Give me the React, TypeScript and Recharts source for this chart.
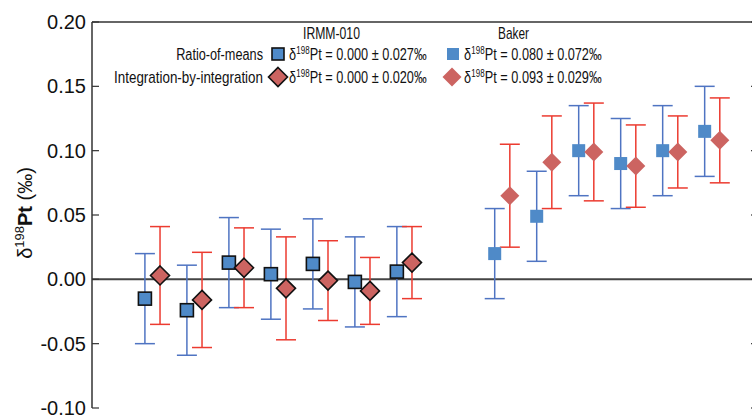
import React from 'react';
import { ComposedChart, Scatter, XAxis, YAxis, ErrorBar, ReferenceLine } from 'recharts';

// Sample positions (IRMM-010 runs 1-7, Baker runs after a gap)
const irmmX = [1, 2, 3, 4, 5, 6, 7];
const bakerX = [9.33, 10.33, 11.33, 12.33, 13.33, 14.33];
const redOffset = 0.36;

// IRMM-010 values (‰)
const irmmRatio = [-0.015, -0.024, 0.013, 0.004, 0.012, -0.002, 0.006];
const irmmRatioErr = [0.035, 0.035, 0.035, 0.035, 0.035, 0.035, 0.035];
const irmmInt = [0.003, -0.016, 0.009, -0.007, -0.001, -0.009, 0.013];
const irmmIntErr = [0.038, 0.037, 0.031, 0.040, 0.031, 0.026, 0.028];

// Baker values (‰)
const bakerRatio = [0.020, 0.049, 0.100, 0.090, 0.100, 0.115];
const bakerRatioErr = [0.035, 0.035, 0.035, 0.035, 0.035, 0.035];
const bakerInt = [0.065, 0.091, 0.099, 0.088, 0.099, 0.108];
const bakerIntErr = [0.040, 0.036, 0.038, 0.032, 0.028, 0.033];

const yTicks = [-0.1, -0.05, 0, 0.05, 0.1, 0.15, 0.2];
const yTickLabels = ['-0.10', '-0.05', '0.00', '0.05', '0.10', '0.15', '0.20'];

const BLUE = '#4f8ac8';
const RED = '#cc6461';
const BLUE_ERR = '#4f74c2';
const RED_ERR = '#ec3b30';

const build = (xs: number[], ys: number[], es: number[], off = 0) =>
  xs.map((x, i) => ({ x: x + off, y: ys[i], err: es[i] }));

const irmmRatioData = build(irmmX, irmmRatio, irmmRatioErr);
const irmmIntData = build(irmmX, irmmInt, irmmIntErr, redOffset);
const bakerRatioData = build(bakerX, bakerRatio, bakerRatioErr);
const bakerIntData = build(bakerX, bakerInt, bakerIntErr, redOffset);

const Square = (stroke: boolean) => (p: any) => {
  const s = 13;
  return (
    <rect x={p.cx - s / 2} y={p.cy - s / 2} width={s} height={s} fill={BLUE}
      stroke={stroke ? '#111' : 'none'} strokeWidth={1.6} />
  );
};
const Diamond = (stroke: boolean) => (p: any) => {
  const r = 9.5;
  return (
    <polygon points={`${p.cx},${p.cy - r} ${p.cx + r},${p.cy} ${p.cx},${p.cy + r} ${p.cx - r},${p.cy}`}
      fill={RED} stroke={stroke ? '#111' : 'none'} strokeWidth={1.6} />
  );
};

const LeftTick = (p: any) => {
  const idx = yTicks.indexOf(p.payload.value);
  return (
    <g>
      <line x1={p.x + 6} x2={p.x + 13} y1={p.y} y2={p.y} stroke="#333" strokeWidth={1.2} />
      <text x={p.x} y={p.y} dy={7} textAnchor="end" fontSize={20} fill="#111"
        fontFamily="Liberation Sans, Arial, sans-serif">
        {idx >= 0 ? yTickLabels[idx] : p.payload.value}
      </text>
    </g>
  );
};
const RightTick = (p: any) => (
  <line x1={p.x - 7} x2={p.x} y1={p.y} y2={p.y} stroke="#333" strokeWidth={1.2} />
);

const LF = "'Liberation Sans', Arial, sans-serif";

// condensed label (Liberation Sans squeezed horizontally to mimic a narrow humanist face)
const Label = ({ x, y, s, anchor, children }: any) => (
  <g transform={`translate(${x},${y}) scale(${s},1)`}>
    <text x={0} y={0} textAnchor={anchor || 'start'} fontSize={16} fontFamily={LF} fill="#111">{children}</text>
  </g>
);

const DeltaText = ({ x, y, value }: { x: number; y: number; value: string }) => (
  <g transform={`translate(${x},${y}) scale(0.795,1)`}>
    <text x={0} y={0} fontSize={16} fontFamily={LF} fill="#111">δ</text>
    <text x={9.2} y={-6} fontSize={10} fontFamily={LF} fill="#111">198</text>
    <text x={26.2} y={0} fontSize={16} fontFamily={LF} fill="#111">{`Pt = ${value}‰`}</text>
  </g>
);

export default function App() {
  return (
    <div style={{ position: 'absolute', left: 0, top: 0, width: 760, height: 415, background: '#fff' }}>
      <ComposedChart width={760} height={415} margin={{ top: 22, right: 0, bottom: 7, left: 0 }}>
        <XAxis dataKey="x" type="number" domain={[-0.26, 15.6]} height={0} tick={false}
          tickLine={false} axisLine={{ stroke: '#333', strokeWidth: 1.5 }} allowDataOverflow />
        <YAxis yAxisId="l" type="number" domain={[-0.1, 0.2]} ticks={yTicks} width={92}
          tickSize={0} tickMargin={6} tickLine={false} tick={<LeftTick />}
          axisLine={{ stroke: '#333', strokeWidth: 1.5 }} allowDataOverflow interval={0} />
        <YAxis yAxisId="r" orientation="right" type="number" domain={[-0.1, 0.2]} ticks={yTicks}
          width={2} tickSize={0} tickMargin={0} tickLine={false} tick={<RightTick />}
          axisLine={{ stroke: '#333', strokeWidth: 1.5 }} allowDataOverflow interval={0} />
        <ReferenceLine yAxisId="l" y={0.2} stroke="#333" strokeWidth={1.5} />
        <ReferenceLine yAxisId="l" y={0} stroke="#444" strokeWidth={2} />
        <Scatter yAxisId="l" data={irmmRatioData} dataKey="y" isAnimationActive={false} shape={Square(true)}>
          <ErrorBar dataKey="err" direction="y" width={10} stroke={BLUE_ERR} strokeWidth={1.5} />
        </Scatter>
        <Scatter yAxisId="l" data={irmmIntData} dataKey="y" isAnimationActive={false} shape={Diamond(true)}>
          <ErrorBar dataKey="err" direction="y" width={10} stroke={RED_ERR} strokeWidth={1.5} />
        </Scatter>
        <Scatter yAxisId="l" data={bakerRatioData} dataKey="y" isAnimationActive={false} shape={Square(false)}>
          <ErrorBar dataKey="err" direction="y" width={10} stroke={BLUE_ERR} strokeWidth={1.5} />
        </Scatter>
        <Scatter yAxisId="l" data={bakerIntData} dataKey="y" isAnimationActive={false} shape={Diamond(false)}>
          <ErrorBar dataKey="err" direction="y" width={10} stroke={RED_ERR} strokeWidth={1.5} />
        </Scatter>
      </ComposedChart>
      <svg width={760} height={415} style={{ position: 'absolute', left: 0, top: 0, pointerEvents: 'none' }}>
        <Label x={303} y={38.5} s={0.763}>IRMM-010</Label>
        <Label x={498} y={38.5} s={0.742}>Baker</Label>
        <Label x={263} y={59.5} s={0.795} anchor="end">Ratio-of-means</Label>
        <Label x={263} y={82.5} s={0.838} anchor="end">Integration-by-integration</Label>
        <rect x={272} y={48} width={12} height={12} fill={BLUE} stroke="#111" strokeWidth={1.6} />
        <polygon points="278,67.5 287.5,77 278,86.5 268.5,77" fill={RED} stroke="#111" strokeWidth={1.6} />
        <rect x={447} y={48} width={12} height={12} fill={BLUE} />
        <polygon points="452,67.5 461.5,77 452,86.5 442.5,77" fill={RED} />
        <DeltaText x={289} y={59.5} value="0.000 ± 0.027" />
        <DeltaText x={289} y={82.5} value="0.000 ± 0.020" />
        <DeltaText x={464} y={59.5} value="0.080 ± 0.072" />
        <DeltaText x={464} y={82.5} value="0.093 ± 0.029" />
        <text transform="translate(32,213) rotate(-90)" textAnchor="middle" fontSize={20}
          fontFamily="Liberation Sans, Arial, sans-serif" fill="#111">
          δ<tspan fontSize={13} dy={-8}>198</tspan>
          <tspan dy={8} fontWeight="bold">Pt</tspan>
          <tspan> (‰)</tspan>
        </text>
      </svg>
    </div>
  );
}
